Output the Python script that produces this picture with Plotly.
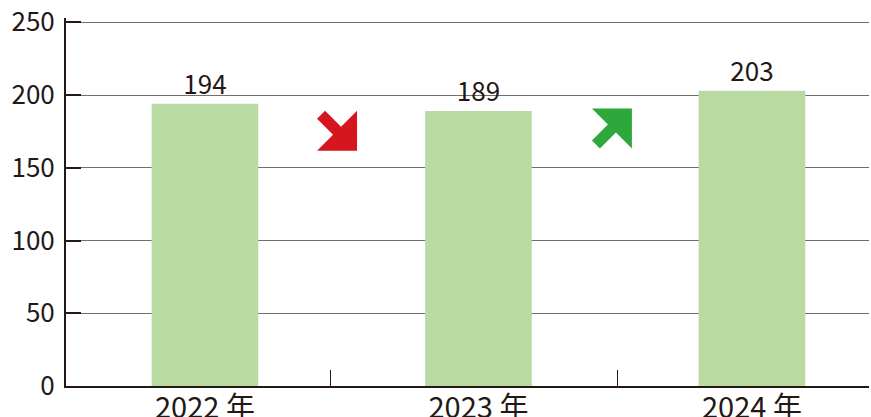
import plotly.graph_objects as go

categories = ["2022 年", "2023 年", "2024 年"]
values = [194, 189, 203]
y_ticks = [0, 50, 100, 150, 200, 250]

TEXT = "#231815"
BAR = "#b9dba3"
FONT = "Noto Sans CJK JP"

xs = list(range(len(categories)))

fig = go.Figure()
fig.add_trace(go.Bar(
    x=xs, y=values, width=0.39,
    marker=dict(color=BAR, line=dict(width=0)),
    text=[str(v) for v in values], textposition="outside",
    textfont=dict(size=26, color=TEXT, family=FONT),
    cliponaxis=False,
))

red_path = "M -20 12 L -12 20 L 4 4 L 20 20 L 20 -20 L -20 -20 L -4 -4 Z"
green_path = "M -12 -20 L -20 -12 L -4 4 L -20 20 L 20 20 L 20 -20 L 4 -4 Z"
for path, xa, ya, col in [(red_path, 0.483, 175.5, "#d6161e"),
                          (green_path, 1.488, 177, "#2ea83b")]:
    fig.add_shape(type="path", path=path, xref="x", yref="y",
                  xsizemode="pixel", ysizemode="pixel",
                  xanchor=xa, yanchor=ya,
                  fillcolor=col, line=dict(width=0), layer="above")

fig.update_layout(
    width=871, height=417,
    margin=dict(l=66, r=2, t=18, b=31),
    plot_bgcolor="white", paper_bgcolor="white",
    showlegend=False,
    font=dict(family=FONT, color=TEXT),
    xaxis=dict(
        range=[-0.508, 2.428], automargin=False,
        tickvals=xs, ticktext=categories,
        ticks="", showgrid=False, zeroline=False,
        showline=True, linecolor=TEXT, linewidth=2,
        tickfont=dict(size=29, color=TEXT, family=FONT),
        ticklabelstandoff=-5,
        minor=dict(tickvals=[0.46, 1.51], ticks="inside", ticklen=16,
                   tickcolor=TEXT, tickwidth=1, showgrid=False),
    ),
    yaxis=dict(
        range=[0, 253], tickvals=y_ticks, automargin=False,
        ticks="inside", ticklen=15, tickcolor=TEXT, tickwidth=2,
        showgrid=True, gridcolor="#6f6f6f", gridwidth=1,
        zeroline=False,
        showline=True, linecolor=TEXT, linewidth=2,
        tickfont=dict(size=26, color=TEXT, family=FONT),
        ticklabelstandoff=4,
    ),
)

fig.write_html("out.html", config={"displayModeBar": False},
               post_script="document.body.style.margin='0';document.body.style.overflow='hidden';")
